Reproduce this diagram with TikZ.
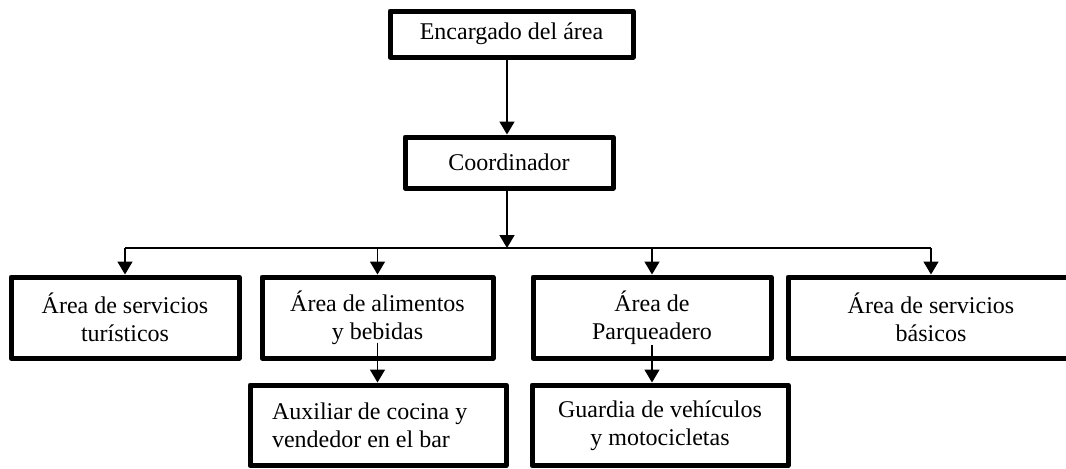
\documentclass[tikz,border=0pt]{standalone}
\usepackage{fontspec}
\setmainfont{Liberation Serif}
\usetikzlibrary{arrows.meta}

\begin{document}
\begin{tikzpicture}[x=0.5pt,y=-0.5pt,
  caja/.style={draw,line width=2.5pt,line join=round,align=center,inner sep=0pt,
    font=\fontsize{12}{14}\selectfont},
  flecha/.style={line width=0.8pt,-{Triangle[width=7.5pt,length=6.5pt]}},
  linea/.style={line width=0.8pt}]

% 画布大小, 超出部分裁掉
\useasboundingbox (0,0) rectangle (1066,468);
\clip (0,0) rectangle (1066,468);

% 上面两层
\node[caja,minimum width=121.5pt,minimum height=23pt] (enc) at (511.5,34) {Encargado del área};
\node[caja,minimum width=104pt,minimum height=25.5pt] (coord) at (509,162.5) {Coordinador};

% 四个区域
\node[caja,minimum width=114pt,minimum height=40.5pt] (tur) at (125,317.5) {Área de servicios\\turísticos};
\node[caja,minimum width=115.5pt,minimum height=40.5pt] (ali) at (377.5,317.5) {Área de alimentos\\y bebidas};
\node[caja,minimum width=119pt,minimum height=40.5pt] (par) at (652,317.5) {Área de\\Parqueadero};
\node[caja,minimum width=143pt,minimum height=40.5pt] (bas) at (931,317.5) {Área de servicios\\básicos};

% 最下层
\node[caja,align=flush left,text width=106pt,inner xsep=11pt,minimum height=40.25pt] (aux) at (378,425.25)
  {Auxiliar de cocina y\\vendedor en el bar};
\node[caja,minimum width=128pt,minimum height=40.25pt] (gua) at (660,425.25) {Guardia de vehículos\\y motocicletas};

% 连线
\coordinate (eje) at (507,248);
\draw[flecha] (enc.south -| eje) -- (coord.north -| eje);
\draw[flecha] (coord.south -| eje) -- (eje);
\draw[linea] (tur.north |- eje) -- (bas.north |- eje);
\foreach \n in {tur,ali,par,bas}
  \draw[flecha] (\n.north |- eje) -- (\n.north);
\draw[flecha] ([yshift=9pt]ali.south) -- (ali.south |- aux.north);
\draw[flecha] ([yshift=8pt]par.south) -- (par.south |- gua.north);

\end{tikzpicture}
\end{document}
